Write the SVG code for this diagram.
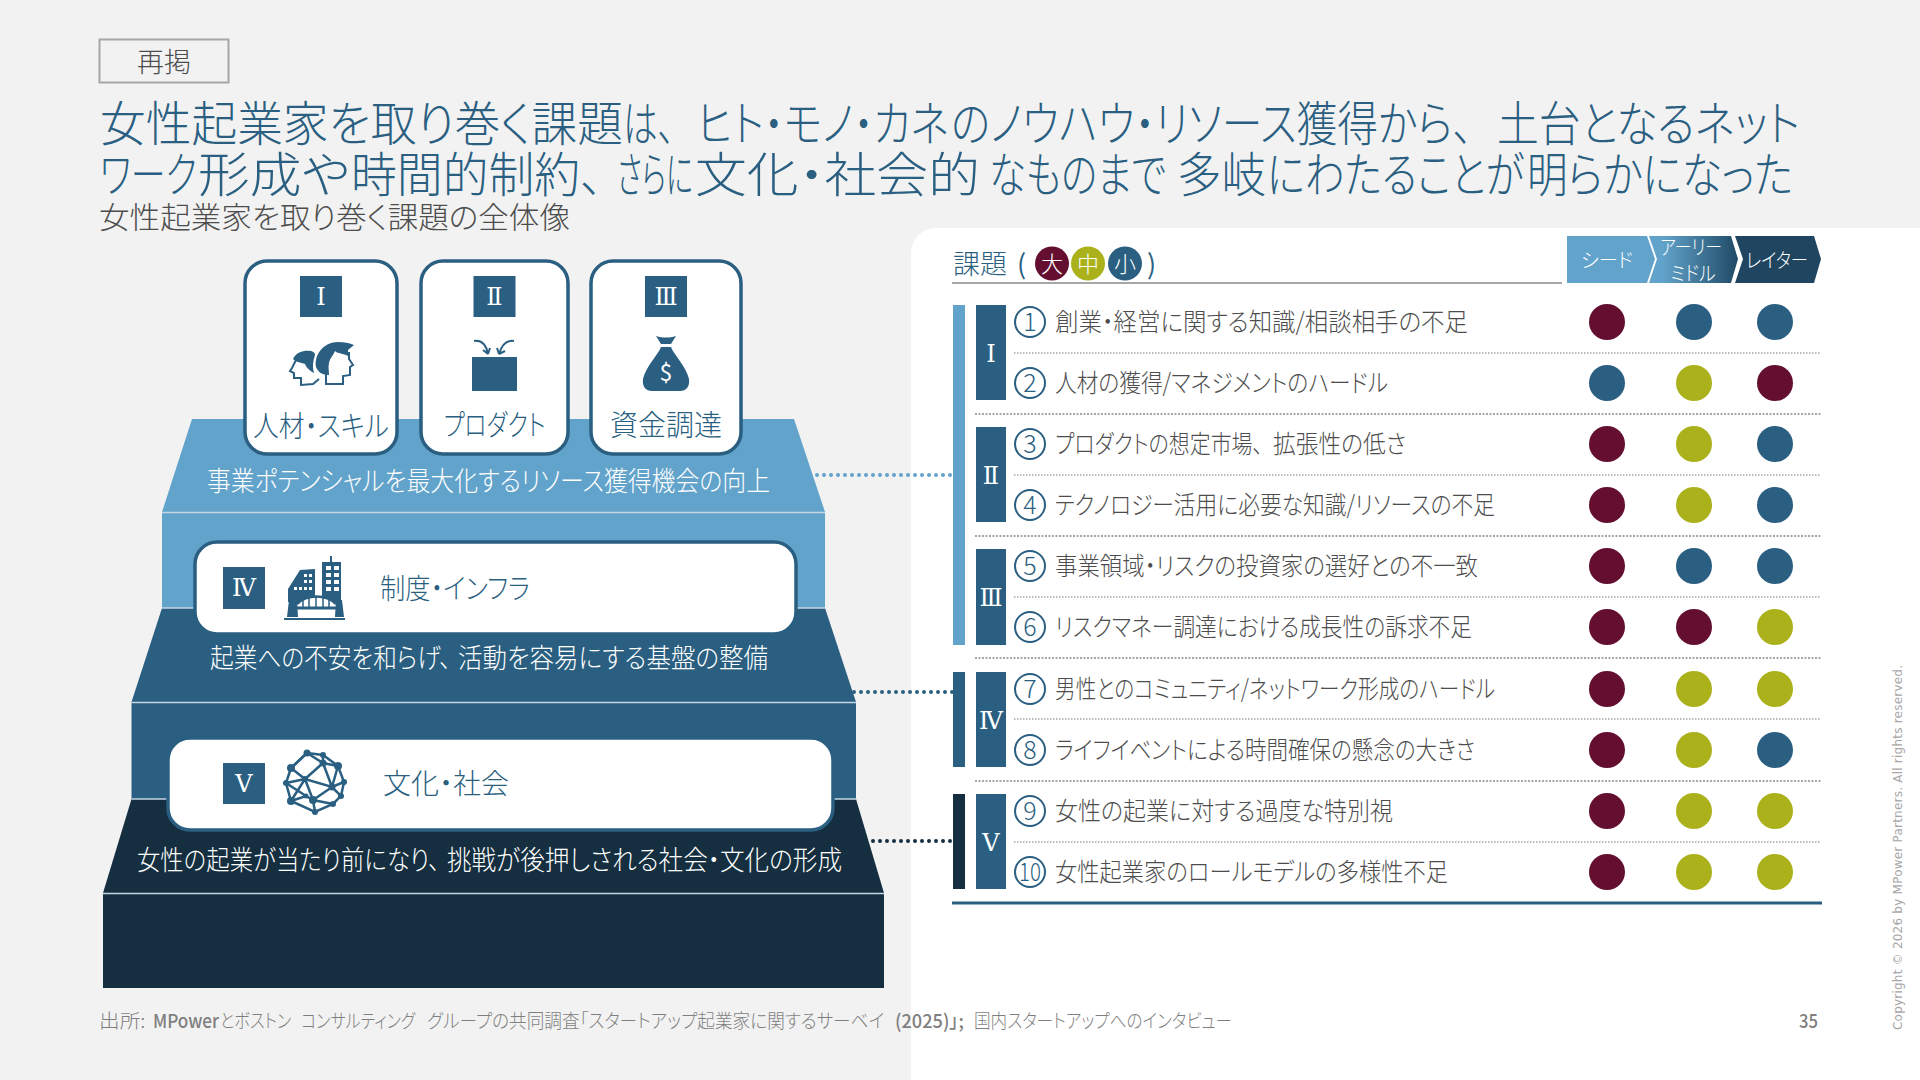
<svg xmlns="http://www.w3.org/2000/svg" width="1920" height="1080" viewBox="0 0 1920 1080">
<defs>
<linearGradient id="midGrad" x1="0" y1="0" x2="1" y2="0"><stop offset="0.15" stop-color="#62a3cb"/><stop offset="1" stop-color="#1f4a66"/></linearGradient>
</defs>
<style>
text{font-family:"Noto Sans CJK JP","Noto Sans",sans-serif;font-feature-settings:"palt";font-weight:300}
.title{font-size:48px;fill:#2a5f81}
.sub{font-size:30px;fill:#4d4d4d}
.lab{font-size:29px;fill:#2a5f81;text-anchor:middle}
.lay{font-size:27px;fill:#fff}
.row{font-size:25px;fill:#4d4d4d}
.num{font-size:25px;fill:#2a5f81;text-anchor:middle}
.rom{font-family:"DejaVu Serif","Liberation Serif",serif;font-size:24px;fill:#fff;text-anchor:middle;font-weight:400}
.sq{fill:#2a5f81}
.card{fill:#fff;stroke:#2a5f81;stroke-width:3.500}
.L{fill:#62a3cb}.M{fill:#2a5f81}.D{fill:#152f40}
.ln{stroke:#c4d6e2;stroke-width:1.5;fill:none}
.b{fill:#640f2f}.g{fill:#aab11b}.n{fill:#2a5f81}
.nc{fill:none;stroke:#2a5f81;stroke-width:2}
.sep{stroke:#a6a6a6;stroke-width:1.5;stroke-dasharray:1.5 1.5;fill:none}
.sep2{stroke:#a6a6a6;stroke-width:2;stroke-dasharray:2 1.5;fill:none}
.chv{font-size:20px;fill:#fff;text-anchor:middle}
.leg{font-size:22px;fill:#fff;text-anchor:middle}
.dot{stroke-width:4;stroke-linecap:round;stroke-dasharray:0 7;fill:none}
.foot{font-size:19px;fill:#7f7f7f}
</style>
<rect width="1920" height="1080" fill="#f2f2f2"/>
<path d="M1920 228H936a25 25 0 0 0-25 25V1080H1920Z" fill="#fff"/>

<g id="tag"><rect x="99.500" y="39.500" width="129" height="43" fill="none" stroke="#a6a6a6" stroke-width="2"/><text x="164" y="72" font-size="27" fill="#4d4d4d" text-anchor="middle">再掲</text></g>
<g id="title">
<text class="title" y="141"><tspan x="100" textLength="523" lengthAdjust="spacingAndGlyphs">女性起業家を取り巻く課題</tspan><tspan x="623" textLength="52" lengthAdjust="spacingAndGlyphs">は、</tspan><tspan x="697" textLength="252" lengthAdjust="spacingAndGlyphs">ヒト・モノ・カネ</tspan><tspan x="951" textLength="522" lengthAdjust="spacingAndGlyphs">のノウハウ・リソース獲得から、</tspan><tspan x="1497" textLength="303" lengthAdjust="spacingAndGlyphs">土台となるネット</tspan></text>
<text class="title" y="192"><tspan x="100" textLength="97" lengthAdjust="spacingAndGlyphs">ワーク</tspan><tspan x="198" textLength="152" lengthAdjust="spacingAndGlyphs">形成や</tspan><tspan x="351" textLength="252" lengthAdjust="spacingAndGlyphs">時間的制約、</tspan><tspan x="617" textLength="76" lengthAdjust="spacingAndGlyphs">さらに</tspan><tspan x="695" textLength="285" lengthAdjust="spacingAndGlyphs">文化・社会的</tspan><tspan x="989" textLength="177" lengthAdjust="spacingAndGlyphs">なものまで</tspan><tspan x="1177" textLength="89" lengthAdjust="spacingAndGlyphs">多岐</tspan><tspan x="1267" textLength="257" lengthAdjust="spacingAndGlyphs">にわたることが</tspan><tspan x="1527" textLength="266" lengthAdjust="spacingAndGlyphs">明らかになった</tspan></text>
<text class="sub" x="99" y="228" textLength="471" lengthAdjust="spacingAndGlyphs">女性起業家を取り巻く課題の全体像</text>
</g>

<g id="pyramid">
<path class="D" d="M131.500 799H856L884 893V988H103V893Z"/>
<path class="M" d="M162 608H825L856 702V799H131.500V702Z"/>
<path class="L" d="M192 419H794L825 512V608H162V512Z"/>
<path class="ln" d="M162 512.500H825M131.500 702.500H856M103 893.500H884M162 608H195M796 608H825M131.500 799H168M833 799H856"/>
</g>

<g id="layer-1-text"><text class="lay" x="207" y="491" textLength="563" lengthAdjust="spacingAndGlyphs">事業ポテンシャルを最大化するリソース獲得機会の向上</text></g>
<g id="layer-2-text"><text class="lay" y="668"><tspan x="210" textLength="241" lengthAdjust="spacingAndGlyphs">起業への不安を和らげ、</tspan><tspan x="458" textLength="310" lengthAdjust="spacingAndGlyphs">活動を容易にする基盤の整備</tspan></text></g>
<g id="layer-3-text"><text class="lay" y="870"><tspan x="137" textLength="303" lengthAdjust="spacingAndGlyphs">女性の起業が当たり前になり、</tspan><tspan x="447" textLength="395" lengthAdjust="spacingAndGlyphs">挑戦が後押しされる社会・文化の形成</tspan></text></g>

<g id="card-1">
<rect class="card" x="245" y="261" width="152" height="193" rx="22"/>
<rect class="sq" x="300" y="276" width="42" height="41"/><text class="rom" x="321" y="305">Ⅰ</text>
<path class="n" d="M316 367c-2-13 8-25 22-25 6 0 12 1 16 3l-6 5 0 6c-5-3-10-2-13-5-2 5-5 7-6 12-1 4 0 8 0 12-7 0-11-3-13-8Z"/>
<path d="M349 352l0 7 4 6-3 2 0 8-7 1 0 8h-17v-12" fill="none" stroke="#2a5f81" stroke-width="2"/>
<path class="n" d="M293 359c4-8 12-9 18-8 3 1 4 2 4 4-2 6-3 12-1 18-4-2-8-6-9-9-3-1-9-2-12-5Z"/>
<path d="M296 360l-4 8-2 3 4 2 0 5 7 0 0 7 12-1 6-5" fill="none" stroke="#2a5f81" stroke-width="2"/>
<text class="lab" x="321" y="437" textLength="136" lengthAdjust="spacingAndGlyphs">人材・スキル</text>
</g>
<g id="card-2">
<rect class="card" x="421" y="261" width="147" height="193" rx="22"/>
<rect class="sq" x="473.500" y="276" width="42" height="41"/><text class="rom" x="494.500" y="305">Ⅱ</text>
<rect class="sq" x="472" y="357" width="45" height="34"/>
<path d="M474 341c7-1 12 3 14 13M488 354l-5-4M488 354l2-6M514 341c-7-1-12 3-15 13M499 354l-2-6M499 354l6-3" fill="none" stroke="#2a5f81" stroke-width="2"/>
<text class="lab" x="494.500" y="436" textLength="102" lengthAdjust="spacingAndGlyphs">プロダクト</text>
</g>
<g id="card-3">
<rect class="card" x="591" y="261" width="150" height="193" rx="22"/>
<rect class="sq" x="645" y="276" width="42" height="41"/><text class="rom" x="666" y="305">Ⅲ</text>
<path class="n" d="M656 336c7 2 13 2 20 0l-5 8h-10Z"/>
<path class="n" d="M661 347h10c3 8 15 19 18 32 1 8-3 12-9 12h-28c-6 0-10-4-9-12 3-13 15-24 18-32Z"/>
<text x="666" y="381" font-size="23" fill="#fff" text-anchor="middle" style="font-weight:400">$</text>
<text class="lab" x="666" y="436" textLength="112" lengthAdjust="spacingAndGlyphs">資金調達</text>
</g>

<g id="band-4">
<rect class="card" x="195" y="542" width="601" height="92" rx="22"/>
<rect class="sq" x="223" y="567" width="42" height="42"/><text class="rom" x="244" y="596">Ⅳ</text>
<g>
<path class="n" d="M322 562h19v40h-19ZM330 562v-6h2v6ZM288 589l12-19 15-1v33h-27Z"/>
<path d="M326 566h5v4h-5ZM334 566h5v4h-5ZM326 573h5v4h-5ZM334 573h5v4h-5ZM326 580h5v4h-5ZM334 580h5v4h-5ZM326 587h5v4h-5ZM334 587h5v4h-5ZM304 574h3v3h-3ZM309 574h3v3h-3ZM304 580h3v3h-3ZM309 580h3v3h-3ZM294 587h3v3h-3ZM299 587h3v3h-3ZM304 587h3v3h-3ZM309 587h3v3h-3Z" fill="#fff"/>
<path d="M297 604c10-11 29-11 39 0V618H297Z" fill="#fff"/>
<path class="n" d="M289 600h8l1 17h-11ZM336 600h6l2 17h-9Z"/>
<path d="M297 604c10-10 29-10 39 0" fill="none" stroke="#2a5f81" stroke-width="2.500"/>
<path d="M297 608h39" stroke="#2a5f81" stroke-width="3"/>
<path d="M303 600v7M309 597v10M316 596v11M323 597v10M329 599v8" fill="none" stroke="#2a5f81" stroke-width="1.500"/>
<path d="M284 619h61" stroke="#2a5f81" stroke-width="2"/>
</g>
<text x="380" y="599" font-size="28" fill="#2a5f81" textLength="150" lengthAdjust="spacingAndGlyphs">制度・インフラ</text>
</g>
<g id="band-5">
<rect class="card" x="168" y="738" width="665" height="92" rx="22"/>
<rect class="sq" x="223" y="763" width="42" height="41"/><text class="rom" x="244" y="792">Ⅴ</text>
<g fill="none" stroke="#2a5f81" stroke-width="2.500">
<path d="M307 753L323 755L338 766L344 782L341 796L333 804L315 812L291 801L286 783L291 768Z"/>
<path d="M307 753L291 768M307 753L323 763L338 766M323 755L323 763L332 787M291 768L305 779L323 763M286 783L305 779L332 787L344 782M305 779L313 800L332 787L341 796M291 801L306 796L313 800L333 804M315 812L313 800M291 801L305 779M338 766L332 787M306 796L286 783"/>
</g>
<g class="n">
<circle cx="307" cy="753" r="3.500"/><circle cx="323" cy="755" r="3"/><circle cx="291" cy="768" r="4"/><circle cx="323" cy="763" r="3.500"/><circle cx="338" cy="766" r="4"/><circle cx="286" cy="783" r="3"/><circle cx="305" cy="779" r="3"/><circle cx="344" cy="782" r="3"/><circle cx="332" cy="787" r="3.500"/><circle cx="341" cy="796" r="3"/><circle cx="291" cy="801" r="4"/><circle cx="313" cy="800" r="4"/><circle cx="306" cy="796" r="2.500"/><circle cx="333" cy="804" r="3"/><circle cx="315" cy="812" r="3"/>
</g>
<text x="383" y="794" font-size="28" fill="#2a5f81" textLength="126" lengthAdjust="spacingAndGlyphs">文化・社会</text>
</g>

<g id="connectors">
<path class="dot" stroke="#62a3cb" d="M817 475H953"/>
<path class="dot" stroke="#2a5f81" d="M854 692H953"/>
<path class="dot" stroke="#152f40" d="M873 841H953"/>
</g>

<g id="legend">
<text x="953" y="274" font-size="27" fill="#2a5f81" textLength="54" lengthAdjust="spacingAndGlyphs">課題</text>
<text x="1017" y="274" font-size="27" fill="#2a5f81" style="font-weight:400">(</text>
<ellipse class="b" cx="1052" cy="263.500" rx="17" ry="17"/><text class="leg" x="1052" y="271.500">大</text>
<ellipse class="g" cx="1088" cy="263.500" rx="17" ry="17"/><text class="leg" x="1088" y="271.500">中</text>
<ellipse class="n" cx="1125" cy="263.500" rx="17" ry="17"/><text class="leg" x="1125" y="271.500">小</text>
<text x="1147" y="274" font-size="27" fill="#2a5f81" style="font-weight:400">)</text>
<path d="M952 283H1562" stroke="#a6a6a6" stroke-width="2"/>
</g>
<g id="stage-header">
<path fill="url(#midGrad)" d="M1649 236H1731L1738 259 1731 283H1649L1657 259Z"/>
<path fill="#1f4560" d="M1735 236H1814L1821 259 1814 283H1735L1743 259Z"/>
<path fill="#62a3cb" d="M1567 236H1647L1655 259 1647 283H1567Z"/>
<text class="chv" x="1607" y="268" textLength="52" lengthAdjust="spacingAndGlyphs">シード</text>
<text class="chv" x="1691" y="255" textLength="62" lengthAdjust="spacingAndGlyphs">アーリー</text>
<text class="chv" x="1693" y="281" textLength="45" lengthAdjust="spacingAndGlyphs">ミドル</text>
<text class="chv" x="1777" y="268" textLength="62" lengthAdjust="spacingAndGlyphs">レイター</text>
</g>

<g id="bars">
<rect class="L" x="953" y="305" width="12" height="340"/>
<rect class="M" x="953" y="672" width="12" height="95"/>
<rect class="D" x="953" y="794" width="12" height="95"/>
<rect class="sq" x="976" y="305" width="30" height="95"/><text class="rom" x="991" y="362">Ⅰ</text>
<rect class="sq" x="976" y="427" width="30" height="95"/><text class="rom" x="991" y="484">Ⅱ</text>
<rect class="sq" x="976" y="549" width="30" height="96"/><text class="rom" x="991" y="606">Ⅲ</text>
<rect class="sq" x="976" y="672" width="30" height="95"/><text class="rom" x="991" y="729">Ⅳ</text>
<rect class="sq" x="976" y="794" width="30" height="95"/><text class="rom" x="991" y="851">Ⅴ</text>
</g>
<g id="separators">
<path class="sep" d="M1014 353H1821M1014 475H1821M1014 597H1821M1014 719H1821M1014 842H1821"/>
<path class="sep2" d="M975 414H1822M975 536H1822M975 658H1822M975 781H1822"/>
<path d="M952 903H1822" stroke="#2a5f81" stroke-width="3"/>
</g>

<g id="row-1"><circle class="nc" cx="1030" cy="322" r="15"/><text class="num" x="1030" y="331">1</text><text class="row" x="1055" y="331" textLength="413" lengthAdjust="spacingAndGlyphs">創業・経営に関する知識/相談相手の不足</text><circle class="b" cx="1607" cy="322" r="18"/><circle class="n" cx="1694" cy="322" r="18"/><circle class="n" cx="1775" cy="322" r="18"/></g>
<g id="row-2"><circle class="nc" cx="1030" cy="383" r="15"/><text class="num" x="1030" y="392">2</text><text class="row" x="1055" y="392" textLength="333" lengthAdjust="spacingAndGlyphs">人材の獲得/マネジメントのハードル</text><circle class="n" cx="1607" cy="383" r="18"/><circle class="g" cx="1694" cy="383" r="18"/><circle class="b" cx="1775" cy="383" r="18"/></g>
<g id="row-3"><circle class="nc" cx="1030" cy="444" r="15"/><text class="num" x="1030" y="453">3</text><text class="row" y="453"><tspan x="1055" textLength="208" lengthAdjust="spacingAndGlyphs">プロダクトの想定市場、</tspan><tspan x="1273" textLength="133" lengthAdjust="spacingAndGlyphs">拡張性の低さ</tspan></text><circle class="b" cx="1607" cy="444" r="18"/><circle class="g" cx="1694" cy="444" r="18"/><circle class="n" cx="1775" cy="444" r="18"/></g>
<g id="row-4"><circle class="nc" cx="1030" cy="505" r="15"/><text class="num" x="1030" y="514">4</text><text class="row" x="1055" y="514" textLength="440" lengthAdjust="spacingAndGlyphs">テクノロジー活用に必要な知識/リソースの不足</text><circle class="b" cx="1607" cy="505" r="18"/><circle class="g" cx="1694" cy="505" r="18"/><circle class="n" cx="1775" cy="505" r="18"/></g>
<g id="row-5"><circle class="nc" cx="1030" cy="566" r="15"/><text class="num" x="1030" y="575">5</text><text class="row" x="1055" y="575" textLength="423" lengthAdjust="spacingAndGlyphs">事業領域・リスクの投資家の選好との不一致</text><circle class="b" cx="1607" cy="566" r="18"/><circle class="n" cx="1694" cy="566" r="18"/><circle class="n" cx="1775" cy="566" r="18"/></g>
<g id="row-6"><circle class="nc" cx="1030" cy="627" r="15"/><text class="num" x="1030" y="636">6</text><text class="row" x="1055" y="636" textLength="417" lengthAdjust="spacingAndGlyphs">リスクマネー調達における成長性の訴求不足</text><circle class="b" cx="1607" cy="627" r="18"/><circle class="b" cx="1694" cy="627" r="18"/><circle class="g" cx="1775" cy="627" r="18"/></g>
<g id="row-7"><circle class="nc" cx="1030" cy="689" r="15"/><text class="num" x="1030" y="698">7</text><text class="row" x="1055" y="698" textLength="440" lengthAdjust="spacingAndGlyphs">男性とのコミュニティ/ネットワーク形成のハードル</text><circle class="b" cx="1607" cy="689" r="18"/><circle class="g" cx="1694" cy="689" r="18"/><circle class="g" cx="1775" cy="689" r="18"/></g>
<g id="row-8"><circle class="nc" cx="1030" cy="750" r="15"/><text class="num" x="1030" y="759">8</text><text class="row" x="1055" y="759" textLength="420" lengthAdjust="spacingAndGlyphs">ライフイベントによる時間確保の懸念の大きさ</text><circle class="b" cx="1607" cy="750" r="18"/><circle class="g" cx="1694" cy="750" r="18"/><circle class="n" cx="1775" cy="750" r="18"/></g>
<g id="row-9"><circle class="nc" cx="1030" cy="811" r="15"/><text class="num" x="1030" y="820">9</text><text class="row" x="1055" y="820" textLength="338" lengthAdjust="spacingAndGlyphs">女性の起業に対する過度な特別視</text><circle class="b" cx="1607" cy="811" r="18"/><circle class="g" cx="1694" cy="811" r="18"/><circle class="g" cx="1775" cy="811" r="18"/></g>
<g id="row-10"><circle class="nc" cx="1030" cy="872" r="15"/><text class="num" x="1030" y="881" textLength="22" lengthAdjust="spacingAndGlyphs">10</text><text class="row" x="1055" y="881" textLength="393" lengthAdjust="spacingAndGlyphs">女性起業家のロールモデルの多様性不足</text><circle class="b" cx="1607" cy="872" r="18"/><circle class="g" cx="1694" cy="872" r="18"/><circle class="g" cx="1775" cy="872" r="18"/></g>

<g id="footer">
<text class="foot" y="1028"><tspan x="99" textLength="51" lengthAdjust="spacingAndGlyphs">出所: </tspan><tspan x="153" textLength="66" lengthAdjust="spacingAndGlyphs" style="font-weight:500">MPower</tspan><tspan x="220" textLength="75" lengthAdjust="spacingAndGlyphs">とボストン </tspan><tspan x="301" textLength="118" lengthAdjust="spacingAndGlyphs">コンサルティング </tspan><tspan x="427" textLength="461" lengthAdjust="spacingAndGlyphs">グループの共同調査「スタートアップ起業家に関するサーベイ </tspan><tspan x="895" textLength="73" lengthAdjust="spacingAndGlyphs" style="font-weight:500">(2025)」; </tspan><tspan x="974" textLength="258" lengthAdjust="spacingAndGlyphs">国内スタートアップへのインタビュー</tspan></text>
<text class="foot" x="1799" y="1028" textLength="19" lengthAdjust="spacingAndGlyphs" style="font-weight:500">35</text>
<text transform="translate(1902 1030) rotate(-90)" font-size="12" fill="#a6a6a6" textLength="365" style="font-family:'DejaVu Sans',sans-serif;font-weight:400">Copyright © 2026 by MPower Partners. All rights reserved.</text>
</g>
</svg>
